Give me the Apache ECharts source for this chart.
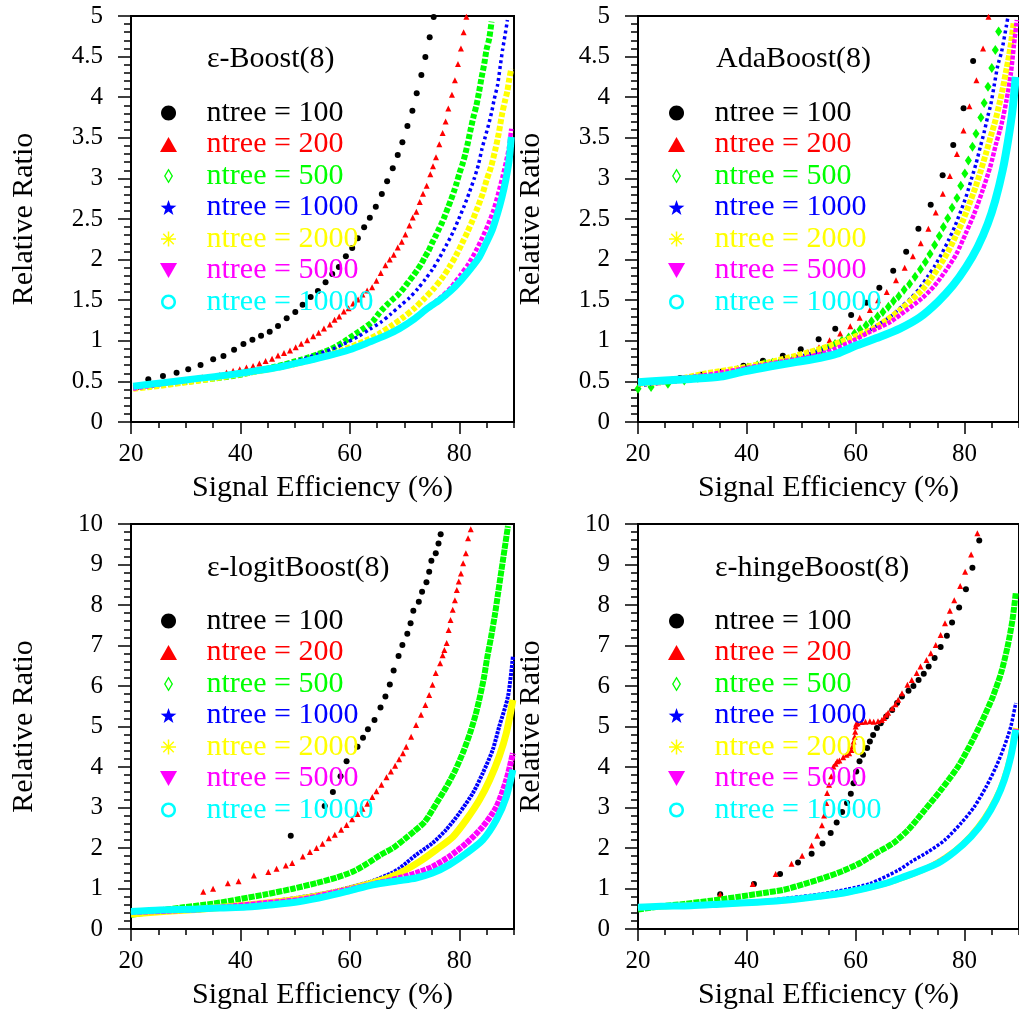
<!DOCTYPE html>
<html>
<head>
<meta charset="utf-8">
<script src="https://cdn.jsdelivr.net/npm/echarts@6/dist/echarts.min.js"></script>
<style>
html,body{margin:0;padding:0;background:#fff;}
#chart{width:1019px;height:1013px;}
</style>
</head>
<body>
<div id="chart"></div>
<script>
// ---------------- DATA ----------------
const seriesNames = ['ntree = 100','ntree = 200','ntree = 500','ntree = 1000','ntree = 2000','ntree = 5000','ntree = 10000'];
const panelTitles = ['\u03b5-Boost(8)','AdaBoost(8)','\u03b5-logitBoost(8)','\u03b5-hingeBoost(8)'];
const xTickLabels = [20,40,60,80];
const xMinorStep = 5;
const yMaxTop = 5, yMaxBottom = 10;

// Panel 1: epsilon-Boost(8)
const tl_n100 = [[23.16,0.525],[25.84,0.567],[28.33,0.608],[30.46,0.649],[32.71,0.702],[35.02,0.772],[36.9,0.813],[38.84,0.891],[40.55,0.961],[42.19,1.014],[43.77,1.063],[45.35,1.112],[46.87,1.182],[48.45,1.277],[50.03,1.355],[51.37,1.445],[52.83,1.539],[54.16,1.613],[55.56,1.72],[56.78,1.823],[57.99,1.909],[59.27,2.04],[60.43,2.143],[61.46,2.262],[62.61,2.397],[63.65,2.516],[64.74,2.652],[65.84,2.808],[66.81,2.964],[67.84,3.124],[68.75,3.288],[69.6,3.444],[70.52,3.645],[71.43,3.834],[72.22,4.048],[73.07,4.273],[73.8,4.495],[74.59,4.737],[75.32,4.988]];
const tl_n200 = [[21,0.43],[24,0.46],[27,0.49],[30,0.52],[33,0.55],[36.23,0.58],[37.45,0.61],[38.66,0.63],[39.88,0.65],[41.1,0.67],[42.31,0.69],[43.46,0.72],[44.6,0.75],[45.78,0.78],[46.87,0.82],[47.96,0.85],[49.06,0.88],[50.1,0.92],[51.1,0.965],[52.2,1.006],[53.3,1.055],[54.29,1.1],[55.26,1.15],[56.35,1.2],[57.2,1.26],[58.05,1.3],[58.9,1.36],[59.76,1.4],[60.6,1.46],[61.5,1.51],[62.3,1.57],[63.16,1.62],[64.07,1.66],[64.86,1.74],[65.65,1.835],[66.5,1.93],[67.29,2.0],[68.02,2.06],[68.75,2.15],[69.48,2.22],[70.15,2.31],[70.88,2.42],[71.49,2.52],[72.16,2.59],[72.77,2.71],[73.37,2.81],[74.04,2.91],[74.7,3.05],[75.2,3.15],[75.74,3.26],[76.35,3.42],[76.96,3.56],[77.5,3.7],[78.0,3.86],[78.66,4.03],[79.2,4.21],[79.76,4.41],[80.3,4.6],[80.79,4.8],[81.3,4.99]];
const tl_n500 = [[20.4,0.42],[25.9,0.46],[30.76,0.5],[35.0,0.534],[38.66,0.566],[41.7,0.607],[44.13,0.644],[46.1,0.677],[47.9,0.706],[49.6,0.739],[51.19,0.768],[52.64,0.8],[54.04,0.833],[55.4,0.866],[56.6,0.9],[57.8,0.944],[58.97,0.99],[60.06,1.04],[61.15,1.09],[62.25,1.14],[63.28,1.19],[64.2,1.24],[65.23,1.33],[66.14,1.4],[67.05,1.46],[67.84,1.51],[68.7,1.56],[69.5,1.62],[70.2,1.68],[70.94,1.745],[71.67,1.81],[72.4,1.88],[73.07,1.95],[73.7,2.03],[74.4,2.11],[75.0,2.2],[75.6,2.28],[76.23,2.37],[76.84,2.455],[77.39,2.545],[77.93,2.64],[78.5,2.74],[79.03,2.84],[79.5,2.94],[80.06,3.07],[80.6,3.18],[81.1,3.3],[81.64,3.46],[82.1,3.61],[82.6,3.76],[83.1,3.89],[83.6,4.06],[84.07,4.24],[84.56,4.41],[84.99,4.59],[85.47,4.72],[85.9,4.93]];
const tl_n1000 = [[20.4,0.42],[23.5,0.45],[29.5,0.505],[35.0,0.554],[39.9,0.607],[44.13,0.657],[47.8,0.706],[50.8,0.76],[53.86,0.83],[56.9,0.9],[59.3,0.975],[61.46,1.05],[63.6,1.14],[65.7,1.23],[67.5,1.33],[69.36,1.44],[70.9,1.53],[72.4,1.64],[73.8,1.76],[75.1,1.88],[76.35,2.02],[77.57,2.17],[78.8,2.33],[79.9,2.5],[80.9,2.66],[81.8,2.82],[82.74,3.0],[83.5,3.17],[84.13,3.36],[84.74,3.51],[85.35,3.66],[85.96,3.83],[86.4,3.98],[87.0,4.15],[87.5,4.39],[87.9,4.58],[88.4,4.78],[88.8,4.95]];
const tl_n2000 = [[20.4,0.41],[23.5,0.43],[29.5,0.484],[35.0,0.534],[39.9,0.587],[44.74,0.644],[49.6,0.706],[53.86,0.78],[56.9,0.84],[59.94,0.92],[63.0,1.006],[65.4,1.09],[67.7,1.19],[69.8,1.29],[71.8,1.4],[73.6,1.52],[75.3,1.64],[76.84,1.77],[78.2,1.91],[79.4,2.05],[80.5,2.2],[81.5,2.34],[82.4,2.48],[83.4,2.65],[84.26,2.81],[85.0,2.98],[85.8,3.14],[86.57,3.35],[87.2,3.55],[87.84,3.8],[88.3,3.94],[88.8,4.08],[89.1,4.21],[89.5,4.35]];
const tl_n5000 = [[20.4,0.41],[25.9,0.47],[32.0,0.525],[37.45,0.575],[42.3,0.628],[47.2,0.686],[52.0,0.76],[56.3,0.83],[59.94,0.9],[63.6,0.985],[66.6,1.067],[69.4,1.17],[72.1,1.29],[74.5,1.42],[76.66,1.54],[78.5,1.66],[80.2,1.81],[81.7,1.95],[83.04,2.11],[84.26,2.28],[85.3,2.44],[86.26,2.61],[87.1,2.81],[87.9,3.02],[88.6,3.22],[89.1,3.39],[89.5,3.61]];
const tl_n10000 = [[20.4,0.44],[25.9,0.484],[32.0,0.534],[37.45,0.575],[42.3,0.624],[47.2,0.677],[52.0,0.75],[56.3,0.82],[59.94,0.89],[63.6,0.985],[66.6,1.067],[69.06,1.15],[71.8,1.27],[74.2,1.4],[76.35,1.5],[78.5,1.62],[80.3,1.745],[82.1,1.89],[83.65,2.03],[84.9,2.2],[86.0,2.36],[87.0,2.57],[87.8,2.77],[88.5,2.98],[89.1,3.22],[89.5,3.51]];

// Panel 2: AdaBoost(8)
const tr_n100 = [[27.73,0.542],[31.57,0.583],[35.53,0.624],[39.37,0.694],[42.96,0.755],[46.61,0.817],[49.9,0.895],[53.19,1.018],[56.24,1.149],[59.16,1.318],[61.96,1.47],[64.34,1.654],[66.89,1.864],[69.27,2.098],[71.52,2.381],[73.78,2.677],[75.97,3.038],[77.92,3.411],[79.81,3.863],[81.57,4.446]];
const tr_n200 = [[23.7,0.49],[26.6,0.51],[29.3,0.54],[31.9,0.56],[34.6,0.59],[37.2,0.61],[39.7,0.645],[42.2,0.68],[44.6,0.71],[46.9,0.75],[49.1,0.8],[51.24,0.86],[53.25,0.92],[55.2,1.006],[57.15,1.09],[59.0,1.18],[60.74,1.285],[62.6,1.38],[64.1,1.5],[65.7,1.6],[67.4,1.745],[69.0,1.9],[70.5,2.04],[71.95,2.2],[73.35,2.38],[74.7,2.58],[76.0,2.81],[77.3,3.03],[78.6,3.3],[79.8,3.59],[80.9,3.89],[82.18,4.21],[83.4,4.6],[84.4,4.99]];
const tr_n500 = [[20,0.41],[22.4,0.43],[25.5,0.47],[28.5,0.51],[31.0,0.545],[33.4,0.575],[35.8,0.6],[38.3,0.64],[40.2,0.67],[41.9,0.7],[43.3,0.715],[44.7,0.73],[46.1,0.745],[47.4,0.76],[48.5,0.78],[49.66,0.8],[51.06,0.82],[52.4,0.85],[53.7,0.875],[55.0,0.915],[56.2,0.96],[57.45,1.0],[58.7,1.04],[59.77,1.09],[60.8,1.14],[61.9,1.19],[62.9,1.24],[64.0,1.3],[65.0,1.355],[66.0,1.42],[66.95,1.49],[67.9,1.55],[68.9,1.63],[69.9,1.7],[70.9,1.79],[71.9,1.88],[72.8,1.97],[73.65,2.07],[74.5,2.18],[75.36,2.29],[76.1,2.4],[76.9,2.51],[77.7,2.64],[78.6,2.76],[79.3,2.91],[80.05,3.06],[80.7,3.22],[81.45,3.39],[82.1,3.55],[83.0,3.75],[83.6,3.93],[84.3,4.13],[85.0,4.36],[85.65,4.58],[86.26,4.81]];
const tr_n1000 = [[20,0.45],[23.0,0.47],[29.1,0.53],[34.6,0.595],[39.5,0.66],[44.4,0.73],[48.6,0.79],[52.3,0.85],[55.3,0.915],[58.06,0.985],[60.5,1.055],[62.6,1.13],[64.6,1.22],[66.6,1.31],[68.4,1.42],[70.2,1.53],[71.77,1.65],[73.2,1.79],[74.6,1.93],[75.9,2.085],[77.06,2.24],[78.16,2.4],[79.26,2.59],[80.3,2.78],[81.2,2.98],[82.1,3.18],[82.9,3.39],[83.6,3.57],[84.25,3.76],[84.85,3.92],[85.4,4.13],[86.1,4.39],[86.8,4.56],[87.7,4.885],[88.0,5.0]];
const tr_n2000 = [[20,0.47],[26.1,0.51],[32.2,0.595],[38.3,0.66],[44.4,0.74],[49.2,0.82],[53.5,0.9],[57.15,0.985],[60.5,1.07],[63.2,1.15],[65.8,1.26],[68.1,1.375],[70.2,1.5],[72.1,1.62],[73.8,1.765],[75.4,1.92],[76.9,2.09],[78.3,2.28],[79.7,2.48],[80.9,2.69],[82.0,2.89],[83.0,3.1],[83.9,3.3],[84.86,3.53],[85.65,3.71],[86.4,3.92],[87.0,4.1],[87.6,4.31],[88.2,4.52],[88.6,4.7],[89.0,4.91]];
const tr_n5000 = [[20,0.49],[26.1,0.53],[32.2,0.575],[38.3,0.645],[44.4,0.72],[50.45,0.79],[54.7,0.86],[59.0,0.985],[62.6,1.11],[66.3,1.23],[69.3,1.375],[72.1,1.52],[74.5,1.68],[76.6,1.87],[78.5,2.07],[80.2,2.32],[81.8,2.57],[83.3,2.85],[84.7,3.14],[85.8,3.43],[86.8,3.67],[87.7,3.96],[88.5,4.29],[89.1,4.66],[89.6,4.95]];
const tr_n10000 = [[20,0.49],[24.9,0.51],[29.7,0.53],[35.2,0.56],[39.5,0.624],[44.4,0.686],[49.2,0.74],[53.5,0.79],[56.5,0.84],[60.2,0.944],[64.5,1.05],[68.1,1.15],[71.8,1.29],[75.1,1.48],[77.85,1.68],[80.3,1.91],[82.4,2.155],[84.25,2.44],[85.65,2.73],[87.0,3.1],[88.0,3.47],[88.8,3.84],[89.4,4.25]];

// Panel 3: epsilon-logitBoost(8)
const bl_n100 = [[49.2,2.3],[55.4,3.04],[56.9,3.38],[58.3,3.77],[59.4,4.14],[61.4,4.5],[62.4,4.72],[63.3,4.93],[64.5,5.16],[65.6,5.47],[66.5,5.74],[67.3,6.04],[68.0,6.38],[68.9,6.74],[69.6,7.01],[70.5,7.29],[71.1,7.55],[71.6,7.86],[72.6,8.08],[73.2,8.33],[74.0,8.56],[74.5,8.82],[74.9,9.09],[75.7,9.28],[76.2,9.52],[76.6,9.75]];
const bl_n200 = [[33.2,0.92],[35.0,0.995],[37.7,1.13],[39.66,1.18],[42.46,1.32],[45.1,1.41],[46.6,1.49],[48.3,1.57],[49.46,1.63],[51.4,1.79],[52.7,1.9],[53.9,2.0],[55.0,2.105],[56.15,2.24],[57.25,2.33],[58.4,2.45],[59.4,2.57],[60.4,2.71],[61.4,2.84],[62.3,2.97],[63.2,3.09],[64.1,3.26],[64.86,3.4],[65.77,3.56],[66.7,3.75],[67.5,3.89],[68.27,4.03],[69.0,4.19],[69.7,4.34],[70.3,4.5],[71.2,4.75],[72.1,5.04],[73.0,5.29],[73.8,5.53],[74.5,5.78],[75.1,6.03],[75.7,6.32],[76.5,6.56],[76.96,6.76],[77.27,6.89],[77.7,7.06],[78.05,7.38],[78.4,7.63],[78.8,7.88],[79.2,8.12],[79.55,8.37],[79.9,8.58],[80.3,8.78],[80.7,9.03],[81.2,9.28],[81.6,9.65],[82.1,9.87]];
const bl_n500 = [[20,0.35],[24.1,0.436],[29.55,0.535],[35.0,0.625],[39.9,0.74],[44.8,0.86],[49.6,0.995],[53.9,1.135],[57.55,1.27],[60.6,1.42],[63.0,1.6],[65.5,1.82],[67.9,2.0],[70.0,2.22],[71.8,2.42],[73.7,2.65],[75.8,3.1],[77.6,3.5],[79.2,3.9],[80.8,4.4],[82.0,4.85],[83.0,5.3],[83.8,5.75],[84.5,6.2],[85.1,6.7],[85.8,7.2],[86.5,7.75],[87.1,8.3],[87.7,8.85],[88.3,9.4],[88.9,9.95]];
const bl_n1000 = [[20,0.39],[26.5,0.45],[32.6,0.52],[38.7,0.576],[44.8,0.666],[50.86,0.78],[56.3,0.91],[60.6,1.05],[64.25,1.19],[67.6,1.38],[69.1,1.5],[72.1,1.83],[75.1,2.12],[77.6,2.45],[80.0,2.86],[82.5,3.36],[84.3,3.85],[86.1,4.42],[87.3,5.0],[88.9,5.74],[89.8,6.73]];
const bl_n2000 = [[20,0.37],[26.5,0.436],[32.6,0.49],[38.7,0.56],[44.8,0.64],[50.86,0.74],[56.9,0.89],[61.8,1.05],[66.1,1.22],[69.1,1.38],[72.8,1.67],[75.8,1.96],[78.85,2.28],[81.3,2.7],[83.7,3.19],[85.55,3.68],[87.3,4.26],[88.6,4.84],[89.8,5.66]];
const bl_n5000 = [[20,0.42],[26.5,0.45],[32.6,0.49],[38.7,0.56],[44.8,0.64],[50.86,0.72],[56.9,0.89],[62.4,1.05],[67.3,1.2],[69.1,1.26],[72.1,1.38],[75.1,1.54],[78.2,1.79],[81.3,2.12],[84.3,2.53],[86.8,3.02],[88.6,3.68],[89.8,4.34]];
const bl_n10000 = [[20,0.435],[25.3,0.47],[31.4,0.49],[36.25,0.52],[41.1,0.54],[46.0,0.6],[50.86,0.68],[55.7,0.806],[60.0,0.946],[64.25,1.09],[68.8,1.19],[72.1,1.26],[75.1,1.38],[78.2,1.59],[81.3,1.87],[84.3,2.2],[86.8,2.7],[88.6,3.27],[89.8,3.93]];

// Panel 4: epsilon-hingeBoost(8)
const br_n100 = [[35.1,0.86],[41.3,1.11],[46.1,1.36],[49.4,1.64],[51.9,1.86],[53.9,2.11],[55.4,2.37],[56.5,2.63],[57.5,2.89],[58.4,3.11],[59.1,3.34],[59.6,3.6],[60.1,3.89],[60.7,4.14],[61.35,4.3],[62.1,4.47],[62.6,4.63],[63.2,4.79],[63.9,4.96],[64.6,5.08],[65.6,5.25],[66.7,5.41],[67.6,5.58],[68.5,5.74],[69.7,5.88],[70.6,6.0],[71.55,6.15],[72.5,6.3],[73.4,6.48],[74.5,6.69],[75.6,6.96],[76.75,7.24],[77.7,7.57],[79.0,7.94],[80.25,8.39],[81.44,8.92],[82.7,9.59]];
const br_n200 = [[35.1,0.85],[41.07,1.11],[45.3,1.36],[48.2,1.61],[50.15,1.81],[51.9,2.06],[52.95,2.3],[53.8,2.56],[54.2,2.8],[54.6,3.11],[54.75,3.36],[55.1,3.56],[55.5,3.77],[55.9,4.01],[56.3,4.08],[56.6,4.14],[57.0,4.16],[57.7,4.24],[58.3,4.3],[58.8,4.34],[59.2,4.42],[59.4,4.51],[59.6,4.63],[59.8,4.75],[59.9,4.87],[60.0,5.0],[60.1,5.07],[60.35,5.08],[61.1,5.11],[61.8,5.12],[62.6,5.13],[63.3,5.12],[64.1,5.13],[64.8,5.16],[65.2,5.21],[65.6,5.29],[65.96,5.34],[66.7,5.45],[67.3,5.55],[67.8,5.66],[68.5,5.82],[69.5,6.03],[70.3,6.15],[71.2,6.32],[71.9,6.48],[73.0,6.64],[73.8,6.81],[74.7,7.01],[75.6,7.26],[76.4,7.55],[77.3,7.86],[78.1,8.12],[79.2,8.47],[80.1,8.82],[81.2,9.25],[82.35,9.77]];
const br_n500 = [[20,0.48],[24.26,0.56],[28.5,0.62],[33.4,0.7],[38.27,0.79],[43.1,0.89],[46.8,0.97],[50.45,1.11],[54.1,1.26],[57.76,1.44],[60.8,1.63],[63.85,1.88],[66.9,2.12],[69.65,2.45],[72.7,2.94],[75.7,3.44],[78.8,4.01],[81.2,4.59],[83.3,5.16],[85.2,5.74],[86.7,6.32],[87.9,6.97],[88.8,7.63],[89.4,8.29]];
const br_n1000 = [[20,0.52],[24.3,0.55],[29.7,0.58],[35.8,0.62],[41.9,0.68],[48.0,0.77],[53.5,0.86],[58.4,0.98],[62.6,1.12],[67.8,1.45],[70.3,1.67],[73.35,1.91],[76.4,2.2],[79.4,2.62],[81.8,3.02],[84.0,3.52],[85.8,4.01],[87.3,4.51],[88.5,5.0],[89.4,5.58]];
const br_n2000 = [[20,0.54],[29.7,0.58],[41.9,0.66],[48.0,0.72],[53.5,0.81],[57.76,0.89],[62.0,1.01],[66.3,1.16],[70.5,1.36],[74.2,1.58],[78.2,1.93],[81.2,2.31],[83.7,2.74],[85.8,3.23],[87.3,3.72],[88.5,4.3],[89.4,4.96]];
const br_n5000 = [[20,0.54],[29.7,0.58],[41.9,0.66],[48.0,0.72],[53.5,0.81],[57.76,0.89],[62.0,1.01],[66.3,1.16],[70.5,1.36],[74.2,1.58],[78.2,1.92],[81.2,2.3],[83.7,2.72],[85.8,3.21],[87.3,3.7],[88.5,4.28],[89.4,4.94]];
const br_n10000 = [[20,0.54],[24.26,0.56],[29.7,0.576],[35.8,0.62],[41.9,0.66],[48.0,0.72],[53.5,0.81],[57.76,0.89],[62.0,1.01],[66.3,1.16],[68.5,1.27],[71.5,1.42],[75.2,1.63],[78.2,1.91],[81.2,2.28],[83.7,2.7],[85.8,3.19],[87.3,3.68],[88.5,4.26],[89.4,4.92]];

// ---------------- STYLE / LAYOUT ----------------
const FONT = 'Liberation Serif';
const COLORS = ['#000000','#ff0000','#00ff00','#0000ff','#ffff00','#ff00ff','#00ffff'];
const ICONS = [
  'path://M50,0 C77.6,0 100,22.4 100,50 C100,77.6 77.6,100 50,100 C22.4,100 0,77.6 0,50 C0,22.4 22.4,0 50,0 Z',
  'path://M50,0 L100,88 L0,88 Z',
  'path://M30,0 L60,50 L30,100 L0,50 Z M30,17 L10,50 L30,83 L50,50 Z',
  'path://M50,0 L61.76,33.82 L97.55,34.55 L69.02,56.18 L79.39,90.45 L50,70 L20.61,90.45 L30.98,56.18 L2.45,34.55 L38.24,33.82 Z',
  'path://M45,0 L55,0 L55,100 L45,100 Z M0,45 L100,45 L100,55 L0,55 Z M18.5,11.5 L88.5,81.5 L81.5,88.5 L11.5,18.5 Z M88.5,18.5 L18.5,88.5 L11.5,81.5 L81.5,11.5 Z',
  'path://M0,0 L100,0 L50,88 Z',
  'path://M50,0 C77.6,0 100,22.4 100,50 C100,77.6 77.6,100 50,100 C22.4,100 0,77.6 0,50 C0,22.4 22.4,0 50,0 Z M50,17 C31.8,17 17,31.8 17,50 C17,68.2 31.8,83 50,83 C68.2,83 83,68.2 83,50 C83,31.8 68.2,17 50,17 Z'
];

const panelData = [
  [tl_n100, tl_n200, tl_n500, tl_n1000, tl_n2000, tl_n5000, tl_n10000],
  [tr_n100, tr_n200, tr_n500, tr_n1000, tr_n2000, tr_n5000, tr_n10000],
  [bl_n100, bl_n200, bl_n500, bl_n1000, bl_n2000, bl_n5000, bl_n10000],
  [br_n100, br_n200, br_n500, br_n1000, br_n2000, br_n5000, br_n10000]
];
// per-panel rendering of each series: scatter marks or dense mark bands
const panelStyle = [
  [{t:'s',sym:'circle',size:6},{t:'s',sym:'triangle',size:6},{t:'l',w:6,d:[5,2]},{t:'l',w:3.5,d:[3,3]},{t:'l',w:6,d:[5,2]},{t:'l',w:4.5,d:[4,2]},{t:'l',w:7,d:null}],
  [{t:'s',sym:'circle',size:6},{t:'s',sym:'triangle',size:6},{t:'s',sym:'diamond',size:[7,10]},{t:'l',w:3.5,d:[3,3]},{t:'l',w:6,d:[5,1.5]},{t:'l',w:4.5,d:[4,1.5]},{t:'l',w:8,d:null}],
  [{t:'s',sym:'circle',size:6},{t:'s',sym:'triangle',size:6},{t:'l',w:6,d:[6,1]},{t:'l',w:4,d:[3,1]},{t:'l',w:7,d:null},{t:'l',w:6,d:[5,1]},{t:'l',w:7,d:null}],
  [{t:'s',sym:'circle',size:6},{t:'s',sym:'triangle',size:6},{t:'l',w:6,d:[6,1]},{t:'l',w:3.5,d:[3,1.5]},{t:'l',w:6,d:null},{t:'l',w:5,d:[3,1.5]},{t:'l',w:7,d:null}]
];
const grids = [
  {left:131, top:16, width:383, height:406},
  {left:638, top:16, width:384, height:406},
  {left:131, top:524, width:383, height:405},
  {left:638, top:524, width:384, height:405}
];
const yMax = [yMaxTop, yMaxTop, yMaxBottom, yMaxBottom];
const yMinorStep = [0.1, 0.1, 0.2, 0.2];
const yMajorStep = [0.5, 0.5, 1, 1];
const titlePos = [{left:207, top:44},{left:716, top:44},{left:207, top:553},{left:715, top:553}];
const legendPos = [{left:160, top:98},{left:668, top:98},{left:160, top:606},{left:668, top:606}];

const option = {
  animation: false,
  backgroundColor: '#ffffff',
  grid: grids.map(g => Object.assign({show:true, borderColor:'#000', borderWidth:2, backgroundColor:'transparent', containLabel:false}, g)),
  title: panelTitles.map((t,i) => ({
    text: t, left: titlePos[i].left, top: titlePos[i].top, padding: 0,
    textStyle: {fontFamily: FONT, fontSize: 30, fontWeight: 'normal', color: '#000'}
  })),
  legend: panelTitles.map((t,i) => ({
    orient: 'vertical', left: legendPos[i].left, top: legendPos[i].top, padding: 0,
    itemWidth: 66, itemHeight: 15, itemGap: 1.5, selectedMode: false,
    itemStyle: {borderWidth: 0},
    textStyle: {fontFamily: FONT, fontSize: 30, lineHeight: 30},
    data: seriesNames.map((n,k) => ({
      name: n, icon: ICONS[k],
      itemStyle: {color: COLORS[k], borderWidth: 0, opacity: 1},
      textStyle: {color: COLORS[k], fontFamily: FONT, fontSize: 30, lineHeight: 30}
    }))
  })),
  xAxis: [],
  yAxis: [],
  series: []
};

const labelStyle = {fontFamily: FONT, fontSize: 25, color: '#000'};
const nameStyle = {fontFamily: FONT, fontSize: 30, color: '#000'};

for (let i = 0; i < 4; i++) {
  // minor-tick axes (the data axes)
  option.xAxis.push({
    type:'value', gridIndex:i, min:20, max:90, interval:xMinorStep,
    axisLine:{show:false}, splitLine:{show:false},
    axisTick:{show:true, inside:false, length:6, interval:0, lineStyle:{color:'#000', width:1.5}},
    axisLabel:{show:false},
    name:'Signal Efficiency (%)', nameLocation:'middle', nameGap:51, nameTextStyle:nameStyle
  });
  option.yAxis.push({
    type:'value', gridIndex:i, min:0, max:yMax[i], interval:yMinorStep[i],
    axisLine:{show:false}, splitLine:{show:false},
    axisTick:{show:true, inside:false, length:7, interval:0, lineStyle:{color:'#000', width:1.5}},
    axisLabel:{show:false},
    name:'Relative Ratio', nameLocation:'middle', nameGap:92, nameTextStyle:nameStyle
  });
}
for (let i = 0; i < 4; i++) {
  // major-tick + label axes
  option.xAxis.push({
    type:'value', gridIndex:i, min:20, max:90, interval:20, position:'bottom',
    axisLine:{show:false}, splitLine:{show:false},
    axisTick:{show:true, inside:false, length:12, customValues:xTickLabels, lineStyle:{color:'#000', width:1.5}},
    axisLabel:Object.assign({show:true, margin:20, customValues:xTickLabels,
      formatter: v => (xTickLabels.indexOf(v) >= 0 ? String(v) : '')}, labelStyle)
  });
  option.yAxis.push({
    type:'value', gridIndex:i, min:0, max:yMax[i], interval:yMajorStep[i], position:'left',
    axisLine:{show:false}, splitLine:{show:false},
    axisTick:{show:true, inside:false, length:13, interval:0, lineStyle:{color:'#000', width:1.5}},
    axisLabel:Object.assign({show:true, margin:28, interval:0,
      formatter: v => String(Math.round(v * 10) / 10)}, labelStyle)
  });
}

for (let i = 0; i < 4; i++) {
  for (let k = 0; k < 7; k++) {
    const st = panelStyle[i][k];
    if (st.t === 's') {
      option.series.push({
        type:'scatter', name:seriesNames[k], xAxisIndex:i, yAxisIndex:i,
        data:panelData[i][k], symbol:st.sym, symbolSize:st.size,
        itemStyle:{color:COLORS[k], opacity:1}, z:2+k, silent:true, clip:true
      });
    } else {
      option.series.push({
        type:'line', name:seriesNames[k], xAxisIndex:i, yAxisIndex:i,
        data:panelData[i][k], symbol:'none', showSymbol:false, smooth:0.25,
        color:COLORS[k],
        lineStyle:{color:COLORS[k], width:st.w, type:(st.d ? st.d : 'solid'), cap:'butt', join:'round'},
        z:2+k, silent:true, clip:true
      });
    }
  }
}

const chart = echarts.init(document.getElementById('chart'), null, {renderer:'canvas'});
chart.setOption(option);
</script>
</body>
</html>
